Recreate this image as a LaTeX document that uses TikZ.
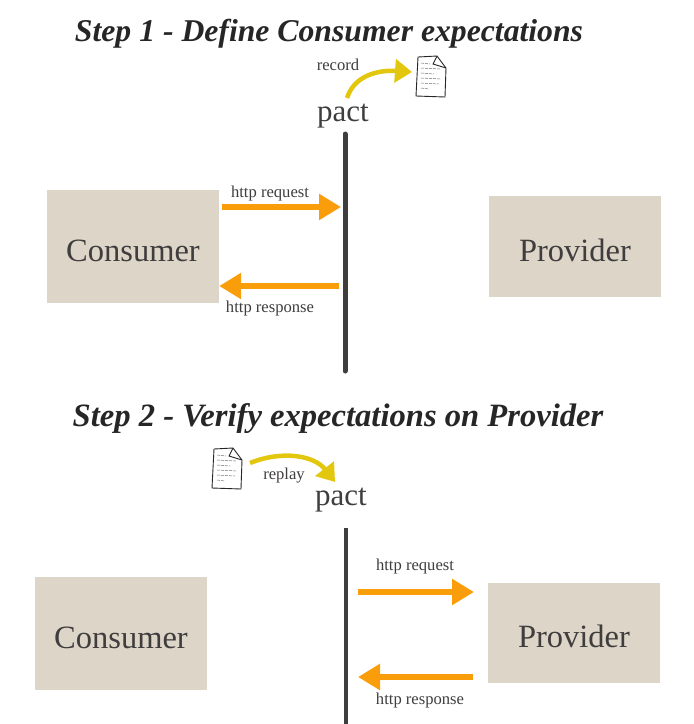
\documentclass[tikz,border=0pt]{standalone}
\usepackage{fontspec}
\setmainfont{Liberation Serif}
\usetikzlibrary{arrows.meta}
\definecolor{boxtan}{HTML}{DDD5C8}
\definecolor{arrorange}{HTML}{F99D0A}
\definecolor{arryellow}{HTML}{E3C70E}
\definecolor{inkgrey}{HTML}{3F3D3D}
\tikzset{
  party/.style={fill=boxtan, text=inkgrey, font=\fontsize{32.5}{36}\selectfont, inner sep=0pt, text height=29pt, text depth=0pt},
  title/.style={text=black!85, font=\fontsize{#1}{36}\selectfont\bfseries\itshape},
  pactlabel/.style={text=inkgrey, font=\fontsize{31}{36}\selectfont},
  small/.style={text=inkgrey, font=\fontsize{16.6}{20}\selectfont},
  http/.style={draw=arrorange, line width=6pt, -{Triangle[length=22pt, width=25pt]}},
  flow/.style={draw=arryellow, line width=4.5pt, -{Triangle[length=17pt, width=23pt]}},
  doc/.style={minimum width=28pt, minimum height=40pt, inner sep=0pt},
  sketch/.style={line width=0.9pt, black!85},
  scribble/.style={line width=0.5pt, black!55, dash pattern=on 3pt off 1pt},
}
% sketched sheet of paper, drawn around a doc node
\newcommand{\pactsheet}[1]{
  \begin{scope}[shift={(#1)}]
    \draw [sketch, fill=white] (-13,-20) -- (6,-21) -- (15,-9) -- (14,20) -- (-15,19) -- cycle;
    \draw [sketch] (6,-21) -- (2,-13) -- (15,-9);
    \foreach \y/\w in {-14/-1, -9/9, -4/3, 1/10, 6/8, 11/-2}
      \draw [scribble] (-10,\y) -- (\w,\y+1);
  \end{scope}
}
\begin{document}
\begin{tikzpicture}[x=1pt, y=-1pt]
  \useasboundingbox (0,0) rectangle (694,724);

  % Step 1
  \node [title=31.7] (titleA) at (329,34) {Step 1 - Define Consumer expectations};
  \node [party, minimum width=172pt, minimum height=113pt] (consumerA) at (133,246.5) {Consumer};
  \node [party, minimum width=172pt, minimum height=101pt] (providerA) at (575,246.5) {Provider};
  \node [pactlabel] (pactA) at (343,116) {pact};
  \node [small] (recordA) at (338,65) {record};
  \node [doc] (docA) at (431,77) {};
  \pactsheet{docA}
  \coordinate (flowAstart) at (347,98);
  \coordinate (flowAend) at (412,72);
  \draw [flow] (flowAstart) to [out=72, in=176] (flowAend);

  \coordinate (barAtop) at (345,134);
  \coordinate (barAend) at (345,371);
  \draw [inkgrey, line width=5pt, line cap=round] (barAtop) -- (barAend);

  \coordinate (reqAstart) at (222,207);
  \coordinate (reqAend) at (341,207);
  \coordinate (respAstart) at (339,286);
  \draw [http] (reqAstart) -- (reqAend);
  \draw [http] (respAstart) -- (consumerA.east |- respAstart);
  \node [small] (reqlabelA) at (270,194) {http request};
  \node [small] (resplabelA) at (270,309) {http response};

  % Step 2
  \node [title=32.6] (titleB) at (338,419) {Step 2 - Verify expectations on Provider};
  \node [party, minimum width=172pt, minimum height=113pt] (consumerB) at (121,633.5) {Consumer};
  \node [party, minimum width=172pt, minimum height=100pt] (providerB) at (574,633) {Provider};
  \node [pactlabel] (pactB) at (341,500) {pact};
  \node [small] (replayB) at (284,476) {replay};
  \node [doc] (docB) at (227,469) {};
  \pactsheet{docB}
  \coordinate (flowBstart) at (250,463);
  \coordinate (flowBend) at (335,482);
  \draw [flow] (flowBstart) to [out=22, in=128] (flowBend);

  \coordinate (barBtop) at (346,528);
  \coordinate (barBend) at (346,724);
  \draw [inkgrey, line width=4pt] (barBtop) -- (barBend);

  \coordinate (reqBstart) at (358,592);
  \coordinate (reqBend) at (474,592);
  \coordinate (respBstart) at (473,677);
  \coordinate (respBend) at (358,677);
  \draw [http] (reqBstart) -- (reqBend);
  \draw [http] (respBstart) -- (respBend);
  \node [small] (reqlabelB) at (415,566) {http request};
  \node [small] (resplabelB) at (420,700) {http response};
\end{tikzpicture}
\end{document}
